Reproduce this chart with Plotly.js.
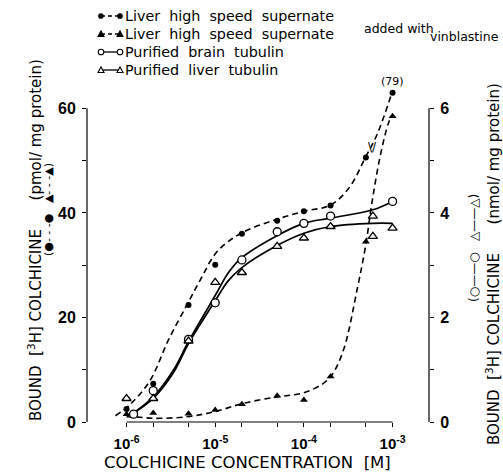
<!DOCTYPE html>
<html>
<head>
<meta charset="utf-8">
<script src="https://cdn.plot.ly/plotly-3.0.1.min.js"></script>
<style>html,body{margin:0;padding:0;background:#fff;}</style>
</head>
<body>
<div id="chart" style="width:503px;height:475px;"></div>
<script>
// ---------- data ----------
const xTickVals = [1e-6, 2e-6, 5e-6, 1e-5, 2e-5, 5e-5, 1e-4, 2e-4, 5e-4, 1e-3];
const xTickText = ['10<sup>-6</sup>', '', '', '10<sup>-5</sup>', '', '', '10<sup>-4</sup>', '', '', '10<sup>-3</sup>'];
const yLeftTickVals = [0, 10, 20, 30, 40, 50, 60];
const yLeftTickText = ['0', '', '20', '', '40', '', '60'];
const yRightTickVals = [0, 1, 2, 3, 4, 5, 6];
const yRightTickText = ['0', '', '2', '', '4', '', '6'];

// Liver high speed supernate (pmol/mg, left axis)
const supX = [1e-6, 2e-6, 5e-6, 1e-5, 2e-5, 5e-5, 1e-4, 2e-4, 5e-4, 1e-3];
const supY = [2.5, 7.3, 22.4, 30.1, 36.0, 38.5, 40.3, 41.4, 50.6, 63];
const supCurveX = [7.5e-7, 1.12e-6, 1.85e-6, 2.97e-6, 4.8e-6, 6.8e-6, 1.05e-5, 1.95e-5, 4.8e-5, 1e-4, 2e-4, 3.3e-4, 4.9e-4, 6.65e-4, 9.8e-4];
const supCurveY = [1.2, 3.5, 8.0, 15.7, 22.4, 27.2, 32.6, 36.1, 38.7, 40.3, 41.5, 45.0, 50.5, 54.9, 62.9];

// Liver high speed supernate added with vinblastine (pmol/mg, left axis)
const vinX = [1e-6, 2e-6, 5e-6, 1e-5, 2e-5, 5e-5, 1e-4, 2e-4, 5e-4, 1e-3];
const vinY = [1.5, 1.7, 1.6, 2.3, 3.4, 5.0, 4.2, 8.7, 34.5, 58.5];
const vinCurveX = [1.0e-6, 1.43e-6, 2.0e-6, 4.8e-6, 1e-5, 2.1e-5, 5e-5, 1e-4, 1.66e-4, 2.07e-4, 2.8e-4, 3.98e-4, 5e-4, 5.85e-4, 7.24e-4, 9e-4, 9.8e-4];
const vinCurveY = [1.0, 0.9, 0.7, 1.0, 2.0, 3.6, 4.8, 5.6, 7.4, 9.0, 13.8, 25.3, 34.0, 41.9, 50.8, 57.2, 58.5];

// Purified brain tubulin (nmol/mg, right axis)
const brainX = [1.2e-6, 2e-6, 5e-6, 1e-5, 2e-5, 5e-5, 1e-4, 2e-4, 1e-3];
const brainY = [0.15, 0.60, 1.58, 2.28, 3.10, 3.64, 3.80, 3.94, 4.22];
const brainCurveX = [1.15e-6, 2.0e-6, 3.4e-6, 5e-6, 1e-5, 1.4e-5, 1.95e-5, 4.8e-5, 1e-4, 2e-4, 6e-4, 1e-3];
const brainCurveY = [0.15, 0.48, 1.0, 1.54, 2.42, 2.85, 3.13, 3.55, 3.80, 3.90, 4.06, 4.22];

// Purified liver tubulin (nmol/mg, right axis)
const livTubX = [1e-6, 2e-6, 5e-6, 1e-5, 2e-5, 5e-5, 1e-4, 2e-4, 6e-4, 6e-4, 1e-3];
const livTubY = [0.45, 0.45, 1.55, 2.67, 2.86, 3.36, 3.52, 3.74, 3.94, 3.55, 3.71];
const livTubCurveX = [1.15e-6, 2.0e-6, 3.4e-6, 5e-6, 1e-5, 1.4e-5, 1.95e-5, 4.8e-5, 1e-4, 2e-4, 6e-4, 1e-3];
const livTubCurveY = [0.15, 0.45, 0.95, 1.50, 2.32, 2.70, 2.94, 3.36, 3.61, 3.74, 3.80, 3.80];

const legendLabels = ['Liver  high  speed  supernate', 'Liver  high  speed  supernate', 'Purified  brain  tubulin', 'Purified  liver  tubulin'];
const topPointLabel = '(79)';

// ---------- layout helpers ----------
const W = 503, H = 475, ML = 87, MR = 74, MT = 77, MB = 53;
const PW = W - ML - MR, PH = H - MT - MB;
const Y_MAX = 66;
const px = v => (v - ML) / PW;
const py = v => (H - MB - v) / PH;
const nb = '\u00a0';
const sp = s => s.replace(/ /g, nb);

const dashStyle = '6px,4px';
const black = '#000';
const numFont = {family: 'Liberation Sans, Arial, sans-serif', size: 16, color: black, weight: 700};
const f = size => ({family: 'DejaVu Sans, sans-serif', size: size, color: black});

const traces = [
  {x: supCurveX, y: supCurveY, mode: 'lines', line: {color: black, width: 1.6, dash: dashStyle, shape: 'spline', smoothing: 1}, hoverinfo: 'skip'},
  {x: vinCurveX, y: vinCurveY, mode: 'lines', line: {color: black, width: 1.6, dash: dashStyle, shape: 'spline', smoothing: 1}, hoverinfo: 'skip'},
  {x: brainCurveX, y: brainCurveY, yaxis: 'y2', mode: 'lines', line: {color: black, width: 1.7, shape: 'spline', smoothing: 1}, hoverinfo: 'skip'},
  {x: livTubCurveX, y: livTubCurveY, yaxis: 'y2', mode: 'lines', line: {color: black, width: 1.7, shape: 'spline', smoothing: 1}, hoverinfo: 'skip'},
  {x: supX, y: supY, mode: 'markers', cliponaxis: false, marker: {symbol: 'circle', size: 6, color: black}},
  {x: vinX, y: vinY, mode: 'markers', cliponaxis: false, marker: {symbol: 'triangle-up', size: 7, color: black}},
  {x: brainX, y: brainY, yaxis: 'y2', mode: 'markers', cliponaxis: false, marker: {symbol: 'circle', size: 8, color: '#fff', line: {color: black, width: 1.3}}},
  {x: livTubX, y: livTubY, yaxis: 'y2', mode: 'markers', cliponaxis: false, marker: {symbol: 'triangle-up', size: 8, color: '#fff', line: {color: black, width: 1.3}}}
];

// axis lines (only over the labelled span)
const topFrac = yLeftTickVals[yLeftTickVals.length - 1] / Y_MAX;
const shapes = [
  {type: 'line', xref: 'x', yref: 'paper', x0: xTickVals[0], x1: xTickVals[xTickVals.length - 1], y0: 0, y1: 0, line: {color: black, width: 1.2}},
  {type: 'line', xref: 'paper', yref: 'paper', x0: 0, x1: 0, y0: 0, y1: topFrac, line: {color: black, width: 1.2}},
  {type: 'line', xref: 'paper', yref: 'paper', x0: 1, x1: 1, y0: 0, y1: topFrac, line: {color: black, width: 1.2}}
];

// custom legend
const rowY = [16, 34, 52, 70];
const legendStyles = [
  {dash: '4px,3px', sym: 'circle', fill: black},
  {dash: '4px,3px', sym: 'tri', fill: black},
  {dash: 'solid', sym: 'circle', fill: '#fff'},
  {dash: 'solid', sym: 'tri', fill: '#fff'}
];
const annotations = [];
const ann = o => annotations.push(Object.assign({showarrow: false, xanchor: 'center', yanchor: 'middle'}, o));
legendStyles.forEach((s, i) => {
  const yy = py(rowY[i]);
  shapes.push({type: 'line', xref: 'paper', yref: 'paper', x0: px(101), x1: px(120), y0: yy, y1: yy, line: {color: black, width: 1.3, dash: s.dash}});
  [101, 120].forEach(xp => {
    const base = {xref: 'paper', yref: 'paper', xsizemode: 'pixel', ysizemode: 'pixel', xanchor: px(xp), yanchor: yy, fillcolor: s.fill, line: {color: black, width: 1.1}};
    if (s.sym === 'circle') {
      const r = s.fill === black ? 2.3 : 2.8;
      shapes.push(Object.assign({type: 'circle', x0: -r, x1: r, y0: -r, y1: r}, base));
    } else {
      shapes.push(Object.assign({type: 'path', path: 'M -3 -2.5 L 3 -2.5 L 0 3 Z'}, base));
    }
  });
  ann({xref: 'paper', yref: 'paper', x: px(123), y: yy, xanchor: 'left', text: sp(legendLabels[i]), font: f(14.3)});
});
ann({xref: 'paper', yref: 'paper', x: px(362), y: py(29), xanchor: 'left', text: 'added with', font: f(12.5)});
ann({xref: 'paper', yref: 'paper', x: px(501), y: py(37), xanchor: 'right', text: 'vinblastine', font: f(12.5)});

// label of the off-scale point and axis-break mark
ann({xref: 'x', yref: 'y', x: Math.log10(supX[supX.length - 1]), y: supY[supY.length - 1], yshift: 11, text: topPointLabel, font: f(11)});
ann({xref: 'paper', yref: 'paper', x: px(372), y: py(147), text: '\\/', font: f(12)});

// axis titles
ann({xref: 'paper', yref: 'paper', x: px(247), y: py(462), text: sp('COLCHICINE CONCENTRATION  [M]'), font: f(16.5)});
ann({xref: 'paper', yref: 'paper', x: px(35), y: py(240), textangle: -90, text: sp('BOUND  [') + '<sup>3</sup>' + sp('H] COLCHICINE      (pmol/ mg protein)'), font: f(15)});
ann({xref: 'paper', yref: 'paper', x: px(49), y: py(210), textangle: -90, text: sp('(●- - -●   ▲- - -▲)'), font: f(11)});
ann({xref: 'paper', yref: 'paper', x: px(493), y: py(264), textangle: -90, text: sp('BOUND  [') + '<sup>3</sup>' + sp('H] COLCHICINE      (nmol/ mg protein)'), font: f(15)});
ann({xref: 'paper', yref: 'paper', x: px(474), y: py(248), textangle: -90, text: sp('(○——○   △——△)'), font: f(12)});

const layout = {
  width: W, height: H,
  margin: {l: ML, r: MR, t: MT, b: MB, pad: 0},
  paper_bgcolor: '#fff', plot_bgcolor: '#fff',
  showlegend: false,
  xaxis: {
    type: 'log', range: [-6.446, -2.589], tickmode: 'array', tickvals: xTickVals, ticktext: xTickText,
    ticks: 'outside', ticklen: 4, tickwidth: 1, tickcolor: black, showline: false, showgrid: false, zeroline: false,
    tickfont: {family: 'Liberation Sans, Arial, sans-serif', size: 15, color: black, weight: 700}, ticklabelstandoff: 4
  },
  yaxis: {
    range: [0, Y_MAX], tickmode: 'array', tickvals: yLeftTickVals, ticktext: yLeftTickText,
    ticks: 'outside', ticklen: 4, tickwidth: 1, tickcolor: black, showline: false, showgrid: false, zeroline: false,
    tickfont: numFont, ticklabelstandoff: 3
  },
  yaxis2: {
    overlaying: 'y', side: 'right', range: [0, Y_MAX / 10], tickmode: 'array', tickvals: yRightTickVals, ticktext: yRightTickText,
    ticks: 'outside', ticklen: 4, tickwidth: 1, tickcolor: black, showline: false, showgrid: false, zeroline: false,
    tickfont: numFont, ticklabelstandoff: 3
  },
  shapes: shapes,
  annotations: annotations
};

Plotly.newPlot('chart', traces, layout, {staticPlot: true, displayModeBar: false});
</script>
</body>
</html>
